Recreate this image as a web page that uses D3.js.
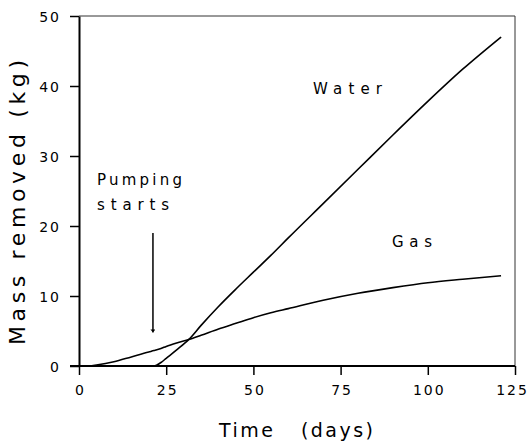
<!DOCTYPE html>
<head>
  <meta charset="utf-8">
  <script src="https://d3js.org/d3.v7.min.js"></script>
  <style>
    body { margin: 0; background: #fff; }
    text { font-family: "DejaVu Sans", sans-serif; fill: #000; }
  </style>
</head>
<body>
  <div class="chart"></div>
  <script>
    // data
    var days  = [0, 3, 5, 10, 15, 20, 21.5, 23.5, 25, 28, 31.5, 35, 40, 45, 50, 55, 60, 70, 80, 90, 100, 110, 121];
    var water = [0, 0, 0, 0, 0, 0, 0, 0.5, 1.1, 2.3, 3.8, 5.8, 8.5, 11.0, 13.4, 15.8, 18.3, 23.2, 28.1, 33.0, 37.8, 42.4, 47];
    var gas   = [0, 0.03, 0.15, 0.6, 1.3, 2.0, 2.2, 2.5, 2.8, 3.3, 3.8, 4.4, 5.3, 6.1, 6.9, 7.6, 8.2, 9.4, 10.4, 11.2, 11.9, 12.4, 12.9];
    var xTicks = [0, 25, 50, 75, 100, 125];
    var yTicks = [0, 10, 20, 30, 40, 50];
    var pumpDay = 21.2, arrowFrom = 19, arrowTo = 4.8;

    var width = 531, height = 444;

    var svg = d3.select(".chart").append("svg")
      .attr("width", width)
      .attr("height", height);

    var x = d3.scaleLinear().domain([0, 125]).range([79, 515]);
    var y = d3.scaleLinear().domain([0, 50]).range([366, 16]);

    svg.append("defs").append("marker")
      .attr("id", "head")
      .attr("viewBox", "0 0 6 10")
      .attr("refX", 6).attr("refY", 5)
      .attr("markerWidth", 3).attr("markerHeight", 5)
      .attr("markerUnits", "userSpaceOnUse")
      .attr("orient", "auto")
      .append("path").attr("d", "M0,0 L6,5 L0,10 Z").attr("fill", "#000");

    // frame top / right
    svg.append("path")
      .attr("d", "M" + x(0) + "," + y(50) + "H" + x(125) + "V" + y(0))
      .attr("fill", "none").attr("stroke", "#333").attr("stroke-width", 1);

    var yAxis = svg.append("g")
      .attr("transform", "translate(" + x(0) + ",0)")
      .call(d3.axisLeft(y).tickValues(yTicks).tickSize(9).tickSizeOuter(0).tickPadding(9));
    yAxis.select(".domain").attr("stroke-width", 2);
    yAxis.selectAll(".tick line").attr("stroke-width", 1.5);
    yAxis.selectAll(".tick text")
      .style("font-size", "14px").style("letter-spacing", "2px")
      .attr("dy", "0.36em");

    var xAxis = svg.append("g")
      .attr("transform", "translate(0," + y(0) + ")")
      .call(d3.axisBottom(x).tickValues(xTicks).tickSize(9).tickSizeOuter(0).tickPadding(10));
    xAxis.select(".domain").attr("stroke-width", 2).attr("d", "M70,0H" + x(125));
    xAxis.selectAll(".tick line").attr("stroke-width", 1.5);
    xAxis.selectAll(".tick text")
      .style("font-size", "14px").style("letter-spacing", "2px")
      .attr("dx", function(d) { return d === 125 ? "-3" : "1"; });

    var line = d3.line()
      .x(function(d) { return x(d[0]); })
      .y(function(d) { return y(d[1]); })
      .curve(d3.curveMonotoneX);

    svg.append("path")
      .datum(days.map(function(d, i) { return [d, water[i]]; }))
      .attr("d", line)
      .attr("fill", "none").attr("stroke", "#000").attr("stroke-width", 1.6);

    svg.append("path")
      .datum(days.map(function(d, i) { return [d, gas[i]]; }))
      .attr("d", line)
      .attr("fill", "none").attr("stroke", "#000").attr("stroke-width", 1.6);

    // arrow
    svg.append("line")
      .attr("x1", x(pumpDay)).attr("x2", x(pumpDay))
      .attr("y1", y(arrowFrom)).attr("y2", y(arrowTo))
      .attr("stroke", "#000").attr("stroke-width", 1.5)
      .attr("marker-end", "url(#head)");

    function label(txt, x0, yb, len, size) {
      svg.append("text")
        .attr("x", x0).attr("y", yb)
        .attr("textLength", len).attr("lengthAdjust", "spacing")
        .style("font-size", size + "px")
        .text(txt);
    }
    label("Pumping", 97, 185, 85, 15);
    label("starts", 97, 210, 72, 15);
    label("Water", 313, 94, 69, 15);
    label("Gas", 392, 247, 40, 15);

    svg.append("text")
      .attr("x", 219).attr("y", 437)
      .attr("textLength", 154).attr("lengthAdjust", "spacing")
      .style("font-size", "19px").style("white-space", "pre")
      .text("Time   (days)");

    svg.append("text")
      .attr("transform", "translate(25,345) rotate(-90)")
      .attr("textLength", 285).attr("lengthAdjust", "spacing")
      .style("font-size", "22px")
      .text("Mass removed (kg)");
  </script>
</body>
